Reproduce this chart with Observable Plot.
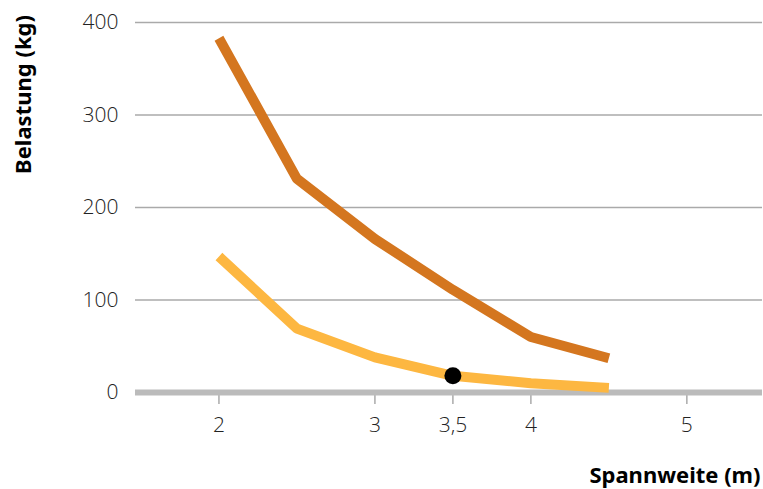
<!DOCTYPE html>
<html><head><meta charset="utf-8">
<script src="https://cdn.jsdelivr.net/npm/d3@7"></script>
<script src="https://cdn.jsdelivr.net/npm/@observablehq/plot@0.6"></script>
<style>body{margin:0;background:#fff}</style>
</head><body><div id="chart"></div>
<script>
const spans = [2, 2.5, 3, 3.5, 4, 4.5];
const upperLoad = [383, 231, 166, 111, 60, 37];
const lowerLoad = [147, 69, 38, 18, 10, 5];
const markedSpan = [3.5];
const markedLoad = [18];
const xTicks = [2, 3, 3.5, 4, 5];
const yTicks = [0, 100, 200, 300, 400];
const yTitle = "Belastung (kg)";
const xTitle = "Spannweite (m)";

const upper = spans.map((x, i) => ({x, y: upperLoad[i]}));
const lower = spans.map((x, i) => ({x, y: lowerLoad[i]}));
const marked = markedSpan.map((x, i) => ({x, y: markedLoad[i]}));

const chart = Plot.plot({
  width: 763,
  height: 489,
  marginLeft: 135,
  marginRight: 1,
  marginTop: 22,
  marginBottom: 97,
  style: {fontFamily: "'Open Sans', sans-serif", fontWeight: 300, fontSize: "21px", color: "#222", background: "#fff"},
  x: {domain: [1.465, 5.485]},
  y: {domain: [0, 400]},
  marks: [
    Plot.ruleY(yTicks.filter(d => d > 0), {stroke: "#aaa", strokeWidth: 1.5}),
    Plot.axisY(yTicks, {tickSize: 0, tickPadding: 17, label: null, fontSize: 21}),
    Plot.axisX(xTicks, {tickSize: 12, tickPadding: 13, stroke: "#aaa", strokeWidth: 1.5, label: null, fontSize: 21,
      tickFormat: d => String(d).replace(".", ",")}),
    Plot.ruleY([0], {stroke: "#bbb", strokeWidth: 6}),
    Plot.line(upper, {x: "x", y: "y", stroke: "#d4761f", strokeWidth: 10, strokeLinecap: "butt", strokeLinejoin: "miter"}),
    Plot.line(lower, {x: "x", y: "y", stroke: "#fdb741", strokeWidth: 10, strokeLinecap: "butt", strokeLinejoin: "miter"}),
    Plot.dot(marked, {x: "x", y: "y", r: 8.5, fill: "#000"}),
    Plot.text([yTitle], {text: d => d, frameAnchor: "top-left", dx: -112, dy: 72, rotate: -90, textAnchor: "middle", lineAnchor: "middle", fontWeight: "bold", fontSize: 22, fill: "#000", fontFamily: "'Noto Sans', sans-serif"}),
    Plot.text([xTitle], {text: d => d, frameAnchor: "bottom-right", dx: -2, dy: 83, textAnchor: "end", lineAnchor: "middle", fontWeight: "bold", fontSize: 22, fill: "#000", fontFamily: "'Noto Sans', sans-serif"})
  ]
});
document.getElementById("chart").appendChild(chart);
</script>
</body></html>
